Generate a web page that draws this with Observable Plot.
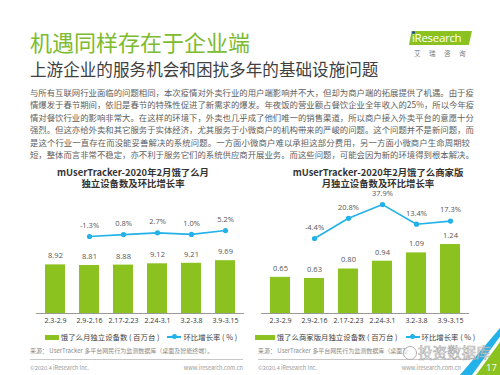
<!DOCTYPE html>
<html>
<head>
<meta charset="utf-8">
<script src="https://cdn.jsdelivr.net/npm/d3@7"></script>
<script src="https://cdn.jsdelivr.net/npm/@observablehq/plot@0.6"></script>
<style>
  html, body { margin:0; padding:0; background:#fff; }
  body { width:500px; height:375px; position:relative; overflow:hidden;
         font-family:"Noto Sans CJK SC","Noto Sans",sans-serif; }
  .abs { position:absolute; white-space:nowrap; }
  #title { left:30px; top:30px; font-size:22px; line-height:1; color:#7DBB2F; }
  #subtitle { left:30px; top:61px; font-size:16.6px; line-height:1; color:#404040; }
  #para { left:30px; top:86px; width:440px; font-size:8.4px; line-height:12.4px; color:#606060; }
  #para div { text-align:justify; text-align-last:justify; white-space:nowrap; }
  .ctitle { font-size:9.4px; line-height:10px; height:10px; font-weight:bold; color:#333; text-align:center; width:250px; }
  .chart { position:absolute; top:190px; width:250px; height:140px; }
  .chart svg { position:absolute; left:0; top:0; overflow:visible; }
  .legend { top:332px; font-size:7.4px; line-height:10px; color:#404040; display:flex; align-items:center; justify-content:center; width:250px; }
  .legend .sw { display:inline-block; width:14px; height:5px; background:#8CC220; margin-right:2px; }
  .legend .ln { display:inline-block; width:14px; height:1.5px; background:#22B1E8; position:relative; margin:0 2px 0 8px; }
  .legend .ln::after { content:""; position:absolute; left:4.5px; top:-2px; width:5px; height:5px; border-radius:50%; background:#22B1E8; }
  .src { top:347px; font-size:6px; line-height:8px; color:#8a8a8a; }
  .sep { height:0; border-top:0.8px solid #c8c8c8; top:359px; }
  .foot { top:364px; font-size:5.6px; line-height:8px; color:#9a9a9a; }
</style>
</head>
<body>
<div id="title" class="abs">机遇同样存在于企业端</div>
<div id="subtitle" class="abs">上游企业的服务机会和困扰多年的基础设施问题</div>

<!-- iResearch logo -->
<div class="abs" style="left:409px;top:31px;width:63px;height:14px;background:#8CC220;clip-path:polygon(4% 0,100% 0,95% 100%,0 100%);"></div>
<div class="abs" style="left:412px;top:30px;font-size:11.5px;line-height:16px;color:#fff;font-family:'Open Sans',sans-serif;letter-spacing:-0.3px;">iResearch</div>
<div class="abs" style="left:412.3px;top:31px;width:3px;height:3px;border-radius:50%;background:#1F4FA0;"></div>
<div class="abs" style="left:414px;top:49px;font-size:6.5px;line-height:8px;color:#777;letter-spacing:8.5px;">艾瑞咨询</div>

<div id="para" class="abs">
  <div>与所有互联网行业面临的问题相同，本次疫情对外卖行业的用户端影响并不大，但却为商户端的拓展提供了机遇。由于疫</div>
  <div>情爆发于春节期间，依旧是春节的特殊性促进了新需求的爆发。年夜饭的营业额占餐饮企业全年收入的25%，所以今年疫</div>
  <div>情对餐饮行业的影响非常大。在这样的环境下，外卖也几乎成了他们唯一的销售渠道，所以商户接入外卖平台的意愿十分</div>
  <div>强烈。但这亦给外卖和其它服务于实体经济，尤其服务于小微商户的机构带来的严峻的问题。这个问题并不是新问题，而</div>
  <div>是这个行业一直存在而没能妥善解决的系统问题。一方面小微商户难以承担这部分费用，另一方面小微商户生命周期较</div>
  <div>短，整体而言非常不稳定，亦不利于服务它们的系统供应商开展业务。而这些问题，可能会因为新的环境得到根本解决。</div>
</div>

<div class="abs ctitle" style="left:8px;top:166.5px;">mUserTracker-2020年2月饿了么月</div>
<div class="abs ctitle" style="left:8px;top:178px;">独立设备数及环比增长率</div>
<div class="abs ctitle" style="left:253px;top:166.5px;">mUserTracker-2020年2月饿了么商家版</div>
<div class="abs ctitle" style="left:253px;top:178px;">月独立设备数及环比增长率</div>

<div id="chartL" class="chart" style="left:0px;"></div>
<div id="chartR" class="chart" style="left:250px;"></div>

<div class="abs legend" style="left:16px;"><span class="sw"></span>饿了么月独立设备数 ( 百万台 )<span class="ln"></span>环比增长率 ( % )</div>
<div class="abs legend" style="left:240px;"><span class="sw" style="width:20px"></span>饿了么商家版月独立设备数 ( 百万台 )<span class="ln"></span>环比增长率 ( % )</div>

<div class="abs src" style="left:30px;">来源： UserTracker 多平台网民行为监测数据库（桌面及智能终端）。</div>
<div class="abs src" style="left:258px;">来源： UserTracker 多平台网民行为监测数据库（桌面及</div>
<div class="abs sep" style="left:30px;width:213px;"></div>
<div class="abs sep" style="left:258px;width:212px;"></div>
<div class="abs foot" style="left:30px;">©2020.4 iResearch Inc.</div>
<div class="abs foot" style="left:170px;width:73px;text-align:right;">www.iresearch.com.cn</div>
<div class="abs foot" style="left:258px;">©2020.4 iResearch Inc.</div>
<div class="abs foot" style="left:388px;width:73px;text-align:right;">www.iresearch.com.cn</div>

<!-- page corner -->
<div class="abs" style="left:460px;top:328px;width:40px;height:47px;background:#22B1E8;clip-path:polygon(100% 0,100% 18%,30% 100%,0 100%);"></div>
<div class="abs" style="left:460px;top:328px;width:40px;height:47px;background:#8CC220;clip-path:polygon(100% 30%,100% 100%,40% 100%);"></div>
<div class="abs" style="left:486px;top:362px;font-size:9.5px;line-height:12px;color:#fff;font-family:'Open Sans',sans-serif;">17</div>

<!-- watermark -->
<div class="abs" style="left:403px;top:346px;width:12px;height:12px;border:1px solid #b0b0b0;border-radius:50%;background:rgba(255,255,255,0.6);"></div>
<div class="abs" style="left:418px;top:343px;font-size:14.5px;line-height:18px;color:rgba(255,255,255,0.55);-webkit-text-stroke:0.6px #a8a8a8;">投资数据库</div>

<script>
const periods = ["2.3-2.9", "2.9-2.16", "2.17-2.23", "2.24-3.1", "3.2-3.8", "3.9-3.15"];
const appDevices = [8.92, 8.81, 8.88, 9.12, 9.21, 9.69];
const appGrowth = [null, -1.3, 0.8, 2.7, 1.0, 5.2];
const merchantDevices = [0.65, 0.63, 0.80, 0.94, 1.09, 1.24];
const merchantGrowth = [null, -4.4, 20.8, 37.9, 13.4, 17.3];

const barColor = "#8CC220";
const lineColor = "#22B1E8";
const font = "'Open Sans','Noto Sans CJK SC',sans-serif";

function makeChart(el, devices, growth, o) {
  const bars = periods.map((p, i) => ({period: p, value: devices[i]}));
  const pts = periods.map((p, i) => ({period: p, value: growth[i]})).filter(d => d.value != null);
  const common = {
    width: 250, height: 140, marginLeft: o.ml, marginRight: o.mr, marginTop: 14, marginBottom: 17,
    style: {fontFamily: font, fontSize: "7px", color: "#333", background: "transparent", overflow: "visible"}
  };
  const xOpts = {type: "band", domain: periods, paddingInner: 0.42, paddingOuter: 0.2};
  const barPlot = Plot.plot({
    ...common,
    x: {...xOpts, label: null, tickSize: 0, tickPadding: 5},
    y: {domain: o.barDomain, axis: null},
    marks: [
      Plot.barY(bars, {x: "period", y: "value", fill: barColor}),
      Plot.text(bars, {x: "period", y: "value", text: d => d.value.toFixed(2), dy: -9, fill: "#555", fontSize: 7.5}),
      Plot.ruleY([0], {stroke: "#9a9a9a", strokeWidth: 1})
    ]
  });
  const linePlot = Plot.plot({
    ...common,
    x: {...xOpts, axis: null},
    y: {domain: o.lineDomain, axis: null},
    marks: [
      Plot.line(pts, {x: "period", y: "value", stroke: lineColor, strokeWidth: 1.6}),
      Plot.dot(pts, {x: "period", y: "value", fill: lineColor, r: 2.6}),
      Plot.text(pts, {x: "period", y: "value", text: d => d.value.toFixed(1) + "%", dy: -11, fill: "#555", fontSize: 7.5})
    ]
  });
  el.appendChild(barPlot);
  el.appendChild(linePlot);
}

makeChart(document.getElementById("chartL"), appDevices, appGrowth,
  {ml: 36, mr: 6, barDomain: [0, 20], lineDomain: [-85, 33.5]});
makeChart(document.getElementById("chartR"), merchantDevices, merchantGrowth,
  {ml: 11, mr: 31, barDomain: [0, 1.96], lineDomain: [-98, 38]});
</script>
</body>
</html>
